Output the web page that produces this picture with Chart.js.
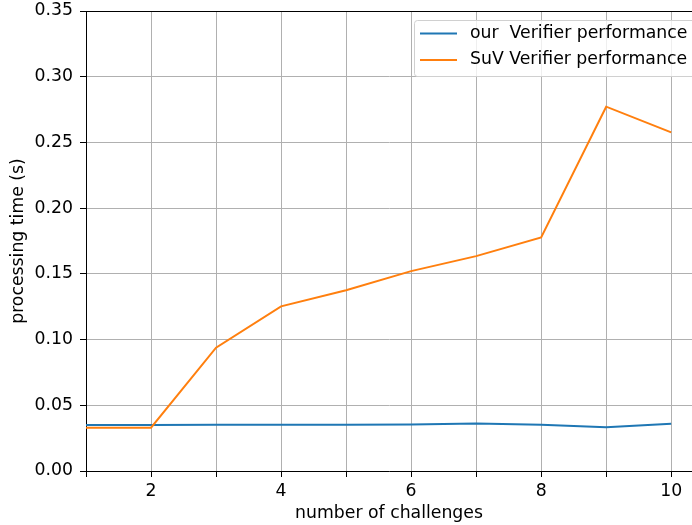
<!DOCTYPE html>
<html>
<head>
<meta charset="utf-8">
<script src="https://cdn.jsdelivr.net/npm/chart.js@4/dist/chart.umd.min.js"></script>
<style>
html,body{margin:0;padding:0;background:#fff;overflow:hidden;}
#wrap{position:relative;width:692px;height:525px;}
</style>
</head>
<body>
<div id="wrap"><canvas id="c" width="692" height="525"></canvas></div>
<script>
const challenges = [1, 2, 3, 4, 5, 6, 7, 8, 9, 10];
const ourVerifier = [0.0350, 0.0350, 0.0352, 0.0351, 0.0352, 0.0353, 0.0362, 0.0352, 0.0333, 0.0360];
const suvVerifier = [0.0330, 0.0330, 0.0938, 0.1253, 0.1375, 0.1521, 0.1635, 0.1777, 0.2772, 0.2577];
const seriesNames = ['our  Verifier performance', 'SuV Verifier performance'];
const yTicks = [0, 0.05, 0.10, 0.15, 0.20, 0.25, 0.30, 0.35];
const xTicks = [1, 2, 3, 4, 5, 6, 7, 8, 9, 10];
const xTitle = 'number of challenges';
const yTitle = 'processing time (s)';

const FONT = '"DejaVu Sans", sans-serif';
const FS = 17.3;
const BLUE = '#1f77b4', ORANGE = '#ff7f0e';

const framePlugin = {
  id: 'frame',
  afterDatasetsDraw(chart) {
    const ctx = chart.ctx, a = chart.chartArea;
    ctx.save();
    ctx.strokeStyle = '#000';
    ctx.lineWidth = 1;
    ctx.beginPath();
    ctx.moveTo(a.left, a.top + 0.5);
    ctx.lineTo(a.right, a.top + 0.5);
    ctx.stroke();
    // legend
    const bx = 414.5, by = 20.5, bw = 290, bh = 56;
    ctx.fillStyle = 'rgba(255,255,255,0.8)';
    ctx.strokeStyle = '#d0d0d0';
    ctx.beginPath();
    if (ctx.roundRect) ctx.roundRect(bx, by, bw, bh, 3); else ctx.rect(bx, by, bw, bh);
    ctx.fill();
    ctx.stroke();
    const cols = [BLUE, ORANGE];
    ctx.font = FS + 'px ' + FONT;
    ctx.textBaseline = 'middle';
    ctx.textAlign = 'left';
    for (let i = 0; i < 2; i++) {
      const y = 33.5 + i * 26.5;
      ctx.strokeStyle = cols[i];
      ctx.lineWidth = 2;
      ctx.beginPath();
      ctx.moveTo(420, y);
      ctx.lineTo(457, y);
      ctx.stroke();
      ctx.fillStyle = '#000';
      ctx.fillText(seriesNames[i], 470, y);
    }
    ctx.restore();
  }
};

new Chart(document.getElementById('c'), {
  type: 'line',
  data: {
    datasets: [
      { label: seriesNames[0], data: challenges.map((x, i) => ({x, y: ourVerifier[i]})),
        borderColor: BLUE, backgroundColor: BLUE, borderWidth: 2, pointRadius: 0, tension: 0, order: 1 },
      { label: seriesNames[1], data: challenges.map((x, i) => ({x, y: suvVerifier[i]})),
        borderColor: ORANGE, backgroundColor: ORANGE, borderWidth: 2, pointRadius: 0, tension: 0, order: 0 }
    ]
  },
  options: {
    responsive: false,
    animation: false,
    devicePixelRatio: 1,
    layout: { padding: { left: 0, right: 0, top: 11, bottom: 0 } },
    plugins: { legend: { display: false }, tooltip: { enabled: false } },
    scales: {
      x: {
        type: 'linear',
        min: 1, max: 10.32,
        afterBuildTicks(scale) { scale.ticks = xTicks.map(v => ({value: v})); },
        afterFit(scale) { scale.height = 54; scale.paddingLeft = 0; scale.paddingRight = 0; },
        ticks: {
          color: '#000', font: { family: FONT, size: FS }, padding: 4, maxRotation: 0, autoSkip: false,
          callback: v => (v % 2 === 0 ? String(v) : '')
        },
        grid: { color: '#b0b0b0', lineWidth: 1, tickColor: '#000', tickLength: 6, drawTicks: true },
        border: { display: true, color: '#000', width: 1 },
        title: { display: true, text: xTitle, color: '#000', font: { family: FONT, size: FS }, padding: { top: 0, bottom: 1 } }
      },
      y: {
        type: 'linear',
        min: 0, max: 0.35,
        afterBuildTicks(scale) { scale.ticks = yTicks.map(v => ({value: v})); },
        afterFit(scale) { scale.width = 86; scale.paddingTop = 0; scale.paddingBottom = 0; },
        ticks: {
          color: '#000', font: { family: FONT, size: FS }, padding: 7,
          callback: v => v.toFixed(2)
        },
        grid: { color: '#b0b0b0', lineWidth: 1, tickColor: '#000', tickLength: 6, drawTicks: true },
        border: { display: true, color: '#000', width: 1 },
        title: { display: true, text: yTitle, color: '#000', font: { family: FONT, size: FS }, padding: { top: 8, bottom: 0 } }
      }
    }
  },
  plugins: [framePlugin]
});
</script>
</body>
</html>
